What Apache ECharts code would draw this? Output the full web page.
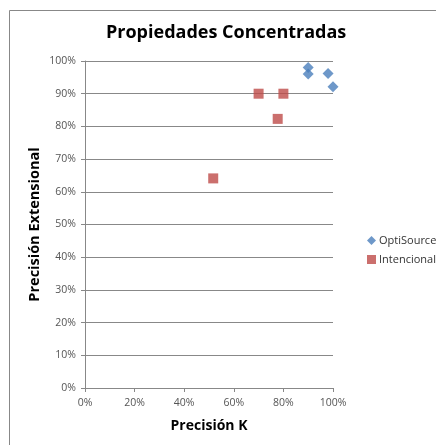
<!DOCTYPE html>
<html>
<head>
<meta charset="utf-8">
<script src="https://cdn.jsdelivr.net/npm/echarts@6/dist/echarts.min.js"></script>
<style>html,body{margin:0;padding:0;background:#fff}#c{width:436px;height:445px}</style>
</head>
<body>
<div id="c"></div>
<script>
const titleText = "Propiedades Concentradas";
const xAxisName = "Precisión K";
const yAxisName = "Precisión Extensional";
const seriesNames = ["OptiSource", "Intencional"];
const optiSourceX = [0.90, 0.90, 0.98, 1.00];
const optiSourceY = [0.98, 0.96, 0.962, 0.921];
const intencionalX = [0.517, 0.70, 0.80, 0.777];
const intencionalY = [0.641, 0.90, 0.90, 0.823];

const chart = echarts.init(document.getElementById('c'));
const pct = v => Math.round(v * 100) + '%';
chart.setOption({
  animation: false,
  backgroundColor: '#fff',
  textStyle: { fontFamily: 'Open Sans' },
  graphic: [{
    type: 'rect', shape: { x: 9.5, y: 10.5, width: 600, height: 600 },
    style: { fill: 'none', stroke: '#888', lineWidth: 1 }, silent: true
  }],
  title: {
    text: titleText, left: 101, top: 19,
    textStyle: { fontSize: 18, fontWeight: 'bold', color: '#000', fontFamily: 'Open Sans' }
  },
  legend: {
    orient: 'vertical', left: 362, top: 230, itemGap: 8, itemWidth: 9, itemHeight: 9,
    textStyle: { fontSize: 11, color: '#333', padding: [0, 0, 0, -2] },
    data: [{ name: seriesNames[0], icon: 'diamond' }, { name: seriesNames[1], icon: 'rect' }]
  },
  grid: { left: 85, right: 103, top: 61, bottom: 57 },
  xAxis: {
    type: 'value', min: 0, max: 1, interval: 0.2,
    name: xAxisName, nameLocation: 'middle', nameGap: 31,
    nameTextStyle: { fontSize: 14, fontWeight: 'bold', color: '#000' },
    axisLine: { show: true, lineStyle: { color: '#888' } },
    axisTick: { show: true, length: 4, lineStyle: { color: '#888' } },
    axisLabel: { formatter: pct, fontSize: 10.5, color: '#555', margin: 10 },
    splitLine: { show: false }
  },
  yAxis: {
    type: 'value', min: 0, max: 1, interval: 0.1,
    name: yAxisName, nameLocation: 'middle', nameGap: 43, nameMoveOverlap: false,
    nameTextStyle: { fontSize: 14.5, fontWeight: 'bold', color: '#000' },
    axisLine: { show: true, lineStyle: { color: '#888' } },
    axisTick: { show: true, length: 4, lineStyle: { color: '#888' } },
    axisLabel: { formatter: pct, fontSize: 10.5, color: '#555', margin: 9 },
    splitLine: { show: true, lineStyle: { color: '#888', width: 1 } }
  },
  series: [
    {
      name: seriesNames[0], type: 'scatter', symbol: 'diamond', symbolSize: 11,
      itemStyle: { color: '#4A7EBB' },
      data: optiSourceX.map((x, i) => [x, optiSourceY[i]])
    },
    {
      name: seriesNames[1], type: 'scatter', symbol: 'rect', symbolSize: 10,
      itemStyle: { color: '#BE4B48' },
      data: intencionalX.map((x, i) => [x, intencionalY[i]])
    }
  ]
});
</script>
</body>
</html>
